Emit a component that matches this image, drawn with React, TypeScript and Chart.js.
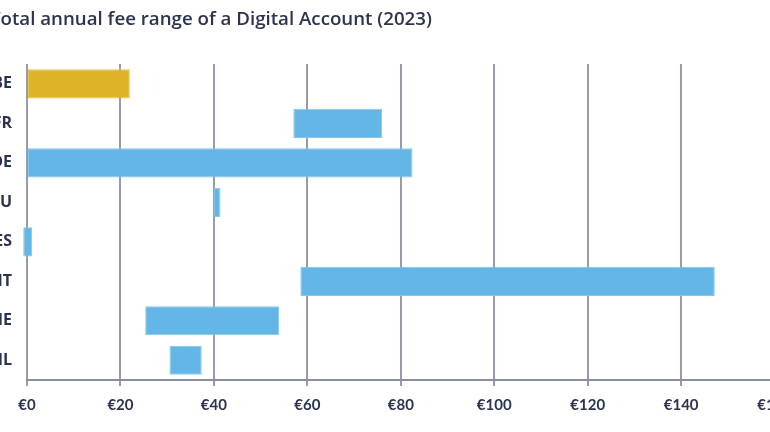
import React, { useEffect, useRef } from "react";
import { Chart, registerables } from "chart.js";

Chart.register(...registerables);

const TITLE = "Total annual fee range of a Digital Account (2023)";
const countries = ["BE", "FR", "DE", "LU", "ES", "IT", "IE", "NL"];
const feeMin = [0, 57, 0, 40, -0.8, 58.5, 25.3, 30.5];
const feeMax = [22, 76, 82.5, 41.4, 1.1, 147.2, 54, 37.4];
const highlight = ["BE"];
const xTicks = [0, 20, 40, 60, 80, 100, 120, 140, 160];

const GOLD = "#dfb327";
const BLUE = "#64b6e7";
const TEXT = "#2c3350";
const GRID = "#989bab";

const CANVAS_W = 812;

export default function App() {
  const ref = useRef<HTMLCanvasElement | null>(null);

  useEffect(() => {
    const canvas = ref.current;
    if (!canvas) return;
    const chart = new Chart(canvas, {
      type: "bar",
      data: {
        labels: countries,
        datasets: [
          {
            data: countries.map((_, i) => [feeMin[i], feeMax[i]]) as any,
            backgroundColor: countries.map((c) => (highlight.includes(c) ? GOLD : BLUE)),
            borderColor: countries.map((c) => (highlight.includes(c) ? "#e9c24a" : "#86c6ee")),
            borderWidth: 1,
            borderSkipped: false,
            categoryPercentage: 1,
            barPercentage: 0.74,
            clip: false as any,
          },
        ],
      },
      options: {
        indexAxis: "y",
        animation: false,
        responsive: false,
        layout: { padding: { left: 0, right: 0, top: 0, bottom: 8 } },
        plugins: {
          legend: { display: false },
          tooltip: { enabled: false },
          title: {
            display: true,
            text: TITLE,
            align: "start",
            color: TEXT,
            font: { family: "Open Sans", size: 18.7, weight: "600", lineHeight: 1.2 },
            padding: { top: 8, bottom: 33.6 },
          },
        },
        scales: {
          x: {
            type: "linear",
            min: xTicks[0],
            max: xTicks[xTicks.length - 1],
            afterBuildTicks: (axis: any) => {
              axis.ticks = xTicks.map((v) => ({ value: v }));
            },
            grid: {
              color: GRID,
              lineWidth: 2,
              tickLength: 6,
              drawTicks: true,
            },
            border: { display: true, color: "#8b8e9e", width: 2 },
            ticks: {
              color: TEXT,
              padding: 10,
              maxRotation: 0,
              font: { family: "Lato", size: 15, weight: "bold" },
              callback: (v: any) => "€" + v,
            },
          },
          y: {
            type: "category",
            offset: true,
            grid: { display: false, drawTicks: false },
            border: { display: false },
            afterFit: (axis: any) => {
              axis.width = 37;
            },
            ticks: {
              color: TEXT,
              padding: 15,
              font: { family: "Open Sans", size: 16, weight: "bold" },
            },
          },
        },
      },
    });
    return () => chart.destroy();
  }, []);

  return (
    <div
      style={{
        position: "fixed",
        left: 0,
        top: 0,
        width: 770,
        height: 432,
        overflow: "hidden",
        background: "#fff",
      }}
    >
      <div style={{ position: "absolute", left: -10, top: 0, width: CANVAS_W, height: 432 }}>
        <canvas ref={ref} width={CANVAS_W} height={432} style={{ width: CANVAS_W, height: 432 }} />
      </div>
    </div>
  );
}
